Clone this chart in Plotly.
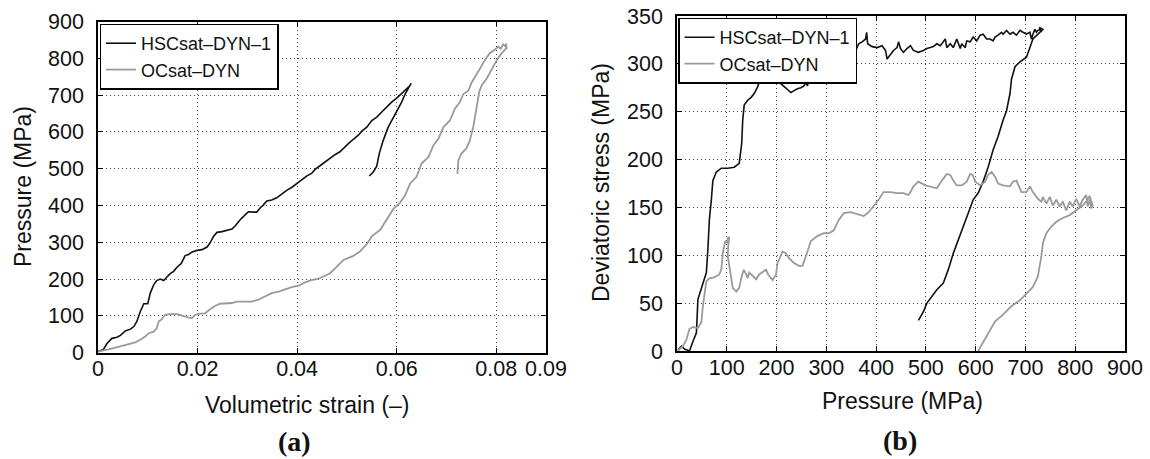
import plotly.graph_objects as go

# ---------------- (a) Volumetric strain vs pressure ----------------
hsc_strain = [0, 0.0008, 0.0011, 0.0018, 0.0028, 0.0038, 0.0045, 0.0055, 0.0065, 0.0072, 0.0078, 0.0085,
              0.0092, 0.0100, 0.0105, 0.0112, 0.0118, 0.0125, 0.0132, 0.0138, 0.0145, 0.0152, 0.0159,
              0.0167, 0.0175, 0.0182, 0.0189, 0.0199, 0.0209, 0.0219, 0.0225, 0.0232, 0.0239, 0.0249,
              0.0259, 0.0269, 0.0276, 0.0286, 0.0296, 0.0302, 0.0312, 0.0319, 0.0326, 0.0332, 0.0339,
              0.0349, 0.0359, 0.0369, 0.0379, 0.0389, 0.0399, 0.0409, 0.0419, 0.0429, 0.0436, 0.0446,
              0.0456, 0.0466, 0.0476, 0.0486, 0.0493, 0.0503, 0.0513, 0.0523, 0.0530, 0.0540, 0.0550,
              0.0560, 0.0570, 0.0580, 0.0590, 0.0600, 0.0607, 0.0613, 0.0620, 0.0627, 0.0629,
              0.0623, 0.0617, 0.0610, 0.0603, 0.0593, 0.0583, 0.0573, 0.0565, 0.0560, 0.0553, 0.0545]
hsc_pressure_a = [3, 7, 9, 25, 39, 42, 47, 59, 64, 71, 85, 112,
                  133, 133, 162, 185, 196, 200, 196, 205, 215, 221, 233,
                  242, 264, 267, 274, 278, 280, 287, 298, 316, 327, 329,
                  332, 336, 345, 362, 375, 383, 382, 382, 394, 401, 412,
                  415, 421, 432, 441, 449, 459, 471, 480, 487, 498, 508,
                  518, 529, 538, 546, 556, 568, 580, 591, 602, 613, 631,
                  640, 654, 669, 681, 692, 701, 708, 717, 726, 732,
                  717, 703, 681, 663, 640, 613, 577, 541, 507, 491, 480]

oc_strain = [0, 0.0008, 0.0021, 0.0035, 0.0048, 0.0062, 0.0075, 0.0085, 0.0095, 0.0102, 0.0112, 0.0118,
             0.0122, 0.0128, 0.0135, 0.0145, 0.0159, 0.0169, 0.0182, 0.0189, 0.0195, 0.0205, 0.0215,
             0.0225, 0.0235, 0.0245, 0.0259, 0.0269, 0.0279, 0.0292, 0.0309, 0.0322, 0.0336, 0.0349,
             0.0363, 0.0376, 0.0389, 0.0403, 0.0416, 0.0429, 0.0443, 0.0456, 0.0466, 0.0480, 0.0493,
             0.0513, 0.0526, 0.0540, 0.0550, 0.0567, 0.0580, 0.0593, 0.0607, 0.0617, 0.0627, 0.0640,
             0.0650, 0.0664, 0.0674, 0.0684, 0.0694, 0.0707, 0.0717, 0.0727, 0.0734, 0.0744, 0.0751,
             0.0757, 0.0764, 0.0771, 0.0777, 0.0787, 0.0797, 0.0804, 0.0809, 0.0814, 0.0818, 0.0820,
             0.0821, 0.0811, 0.0801, 0.0794, 0.0781, 0.0771, 0.0766, 0.0763, 0.0759, 0.0754, 0.0747,
             0.0740, 0.0730, 0.0724, 0.0722]
oc_pressure_a = [3, 5, 9, 14, 18, 23, 28, 35, 44, 53, 57, 66,
                 85, 91, 103, 105, 105, 101, 95, 94, 103, 106, 107,
                 118, 127, 133, 134, 135, 139, 139, 139, 144, 153, 162,
                 166, 173, 178, 182, 191, 197, 201, 209, 216, 234, 252,
                 263, 275, 295, 316, 334, 361, 390, 408, 428, 460, 478,
                 514, 532, 564, 582, 613, 631, 663, 681, 703, 712, 735,
                 748, 762, 780, 795, 814, 823, 832, 826, 838, 833, 840,
                 828, 814, 795, 777, 745, 727, 709, 686, 650, 614, 577,
                 555, 541, 523, 486]

# ---------------- (b) Pressure vs deviatoric stress ----------------
hsc_pressure_b = [2, 9, 15, 25, 32, 39, 42, 45, 55, 59, 62, 65, 69, 72, 79, 89, 102, 115, 125, 130, 132,
                  135, 142, 149, 155, 162, 167, 172, 179, 185, 191, 194, 197, 202, 209, 219, 229, 235,
                  242, 249, 255, 259, 262, 265, 269, 275, 282, 292, 302, 309, 315, 322, 329, 335, 342,
                  349, 355, 359, 365, 372, 379, 381, 383, 392, 402, 412, 419, 422, 429, 435, 442, 445,
                  449, 455, 462, 469, 475, 485, 495, 502, 509, 515, 522, 529, 539, 542, 549, 555, 562,
                  569, 572, 579, 582, 589, 595, 602, 609, 615, 622, 629, 635, 639, 645, 652, 655, 662,
                  669, 675, 682, 689, 695, 702, 709, 712, 715, 719, 722, 725, 730, 732, 728, 735,
                  725, 715, 709, 702, 689, 679, 672, 669, 662, 655, 645, 635, 625, 615, 605, 595, 585,
                  575, 565, 555, 545, 535, 522, 512, 502, 495, 485]
hsc_deviatoric = [1, 5, 2, 0, 10, 19, 54, 59, 75, 82, 106, 137, 158, 178, 187, 191, 191, 192, 196, 217, 241,
                  257, 262, 265, 269, 276, 284, 288, 289, 288, 286, 289, 284, 283, 279, 274, 270, 272,
                  274, 275, 277, 281, 277, 283, 283, 290, 294, 294, 295, 297, 302, 312, 310, 310, 307,
                  303, 309, 314, 321, 323, 326, 333, 321, 318, 317, 319, 314, 305, 310, 314, 317, 323,
                  316, 312, 316, 319, 314, 312, 314, 316, 317, 318, 321, 319, 326, 317, 321, 317, 326,
                  316, 321, 317, 324, 323, 328, 324, 330, 331, 326, 326, 324, 328, 330, 333, 331, 335,
                  331, 333, 330, 335, 333, 331, 333, 326, 331, 336, 333, 335, 336, 333, 338, 336,
                  331, 326, 317, 307, 302, 297, 284, 269, 251, 241, 224, 210, 192, 177, 165, 158, 144,
                  130, 116, 102, 85, 71, 64, 57, 50, 41, 32]

oc_pressure_b = [2, 5, 12, 19, 25, 32, 42, 49, 52, 55, 59, 65, 75, 85, 89, 92, 95, 97, 101, 102, 105, 103,
                 102, 105, 109, 112, 119, 125, 130, 134, 139, 142, 145, 152, 159, 165, 172, 179, 183,
                 192, 199, 202, 212, 219, 225, 235, 245, 252, 259, 269, 282, 295, 305, 315, 325, 335,
                 349, 362, 375, 385, 395, 405, 415, 429, 442, 455, 465, 469, 475, 485, 499, 509, 522,
                 532, 542, 549, 555, 562, 572, 582, 589, 594, 599, 609, 619, 625, 632, 639, 645, 655,
                 669, 675, 682, 692, 702, 709, 715, 725, 732, 735, 742, 749, 755, 762, 769, 775, 782,
                 789, 795, 802, 809, 815, 822, 825, 829, 832, 835,
                 829, 822, 815, 802, 789, 775, 762, 752, 742, 735, 732, 725, 715, 702, 689, 672, 655,
                 639, 629, 619, 610, 605]
oc_deviatoric = [0, 2, 5, 12, 23, 25, 24, 30, 47, 61, 73, 76, 77, 80, 85, 102, 111, 115, 113, 118, 119, 111,
                 99, 89, 75, 66, 62, 66, 78, 85, 80, 76, 82, 78, 75, 80, 83, 85, 80,
                 74, 80, 92, 104, 102, 97, 92, 89, 89, 99, 115, 120, 123, 123, 126, 137, 144,
                 145, 143, 141, 145, 151, 158, 166, 166, 165, 165, 163, 166, 172, 177, 173, 172, 170,
                 178, 185, 184, 178, 173, 173, 177, 185, 184, 177, 173, 177, 184, 187, 182, 175, 173,
                 172, 177, 178, 166, 166, 172, 166, 159, 156, 161, 154, 161, 152, 158, 151, 156, 147,
                 156, 151, 159, 151, 158, 163, 151, 158, 149, 152,
                 162, 156, 152, 147, 142, 139, 135, 130, 123, 113, 99, 78, 67, 60, 53, 47, 38,
                 31, 22, 14, 5, 0]

series_names = ["HSCsat–DYN–1", "OCsat–DYN"]
strain_ticks = [0, 0.02, 0.04, 0.06, 0.08, 0.09]
strain_labels = ["0", "0.02", "0.04", "0.06", "0.08", "0.09"]

BLACK = "#111111"
GRAY = "#9a9a9a"
FONT = "Liberation Sans"

# The page body margin is removed (post_script), so the figure fills the window.
W, H = 1150, 459


def xp(px):
    return px / W


def yp(py):
    return 1 - py / H


fig = go.Figure()
fig.add_trace(go.Scatter(x=hsc_strain, y=hsc_pressure_a, mode="lines", name=series_names[0],
                         line=dict(color=BLACK, width=1.6), xaxis="x", yaxis="y", legend="legend"))
fig.add_trace(go.Scatter(x=oc_strain, y=oc_pressure_a, mode="lines", name=series_names[1],
                         line=dict(color=GRAY, width=1.8), xaxis="x", yaxis="y", legend="legend"))
fig.add_trace(go.Scatter(x=hsc_pressure_b, y=hsc_deviatoric, mode="lines", name=series_names[0],
                         line=dict(color=BLACK, width=1.6), xaxis="x2", yaxis="y2", legend="legend2"))
fig.add_trace(go.Scatter(x=oc_pressure_b, y=oc_deviatoric, mode="lines", name=series_names[1],
                         line=dict(color=GRAY, width=1.8), xaxis="x2", yaxis="y2", legend="legend2"))

axis_common = dict(showline=True, linecolor="black", linewidth=1.5, mirror="allticks",
                   ticks="inside", ticklen=5, tickcolor="black", tickwidth=1,
                   showgrid=True, gridcolor="#444444", griddash="1px,3px", gridwidth=1,
                   zeroline=False, tickfont=dict(family=FONT, size=21.5, color="#111111"),
                   fixedrange=True, automargin=False, ticklabeloverflow="allow")

fig.update_layout(
    width=W, height=H,
    margin=dict(l=0, r=0, t=0, b=0, autoexpand=False),
    paper_bgcolor="white", plot_bgcolor="white",
    xaxis=dict(domain=[xp(98), xp(546)], range=[0, 0.09], tickvals=strain_ticks, ticktext=strain_labels,
               anchor="y", ticklabelstandoff=-4, **axis_common),
    yaxis=dict(domain=[yp(352.7), yp(21.5)], range=[0, 900], dtick=100,
               anchor="x", ticklabelstandoff=8, **axis_common),
    xaxis2=dict(domain=[xp(677), xp(1125)], range=[0, 900], dtick=100,
                anchor="y2", ticklabelstandoff=-4, **axis_common),
    yaxis2=dict(domain=[yp(351), yp(16)], range=[0, 350], dtick=50,
                anchor="x2", ticklabelstandoff=8, **axis_common),
    legend=dict(x=xp(99.5), y=yp(23.5), xanchor="left", yanchor="top", bgcolor="white",
                bordercolor="black", borderwidth=1.5, itemwidth=30, tracegroupgap=0,
                font=dict(family=FONT, size=18, color="#111111")),
    legend2=dict(x=xp(678), y=yp(17.5), xanchor="left", yanchor="top", bgcolor="white",
                 bordercolor="black", borderwidth=1.5, itemwidth=30, tracegroupgap=0,
                 font=dict(family=FONT, size=18, color="#111111")),
    showlegend=True,
    hovermode=False,
)

ann_font = dict(family=FONT, size=23, color="#111111")
lab_font = dict(family="Liberation Serif", size=28, color="#111111")
annotations = [
    dict(text="Volumetric strain (–)", x=xp(308), y=yp(405), font=ann_font),
    dict(text="Pressure (MPa)", x=xp(23), y=yp(187), font=ann_font, textangle=-90),
    dict(text="<b>(a)</b>", x=xp(294), y=yp(441), font=lab_font),
    dict(text="Pressure (MPa)", x=xp(902), y=yp(401), font=ann_font),
    dict(text="Deviatoric stress (MPa)", x=xp(601), y=yp(183), font=ann_font, textangle=-90),
    dict(text="<b>(b)</b>", x=xp(900), y=yp(440), font=lab_font),
]
for a in annotations:
    fig.add_annotation(xref="paper", yref="paper", showarrow=False, xanchor="center", yanchor="middle", **a)

fig.write_html("out.html", config={"displayModeBar": False},
               post_script="document.body.style.margin='0';document.body.style.overflow='hidden';")
